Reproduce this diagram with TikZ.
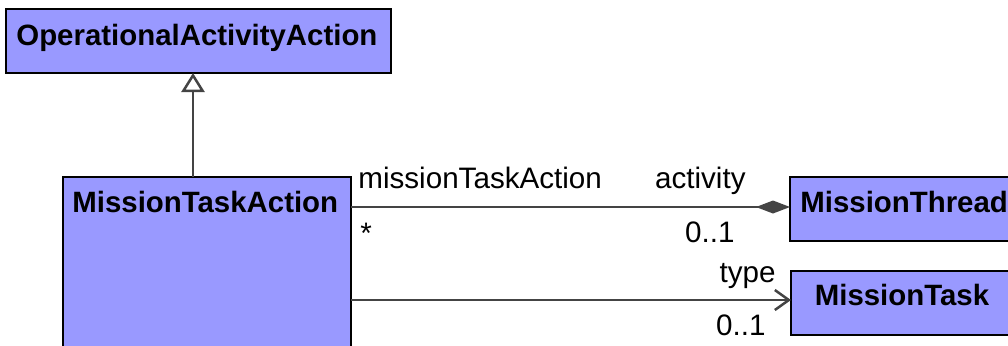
\documentclass[tikz,border=0pt]{standalone}
\usepackage{fontspec}
\setmainfont{Liberation Sans}
\usetikzlibrary{arrows.meta,calc}
\definecolor{boxfill}{HTML}{9999FF}
\definecolor{edgegray}{HTML}{444444}
\begin{document}
\begin{tikzpicture}[x=0.5pt,y=-0.5pt,
  classbox/.style={draw=black, fill=boxfill, line width=1pt, inner sep=0pt, outer sep=0pt, anchor=north west, rectangle},
  classname/.style={font=\fontsize{14.7}{17}\selectfont\bfseries, anchor=base west, inner sep=0pt},
  rolelabel/.style={font=\fontsize{14.8}{17}\selectfont, inner sep=0pt},
  assoc/.style={draw=edgegray, line width=1.25pt}]
\useasboundingbox (0,0) rectangle (1008,345);
\clip (0,0) rectangle (1008,345);

\node[classbox, minimum width=192.5pt, minimum height=32pt] (oaa) at (6,9) {};
\node[classbox, minimum width=144pt, minimum height=86pt] (mta) at (63,177) {};
\node[classbox, minimum width=111pt, minimum height=32pt] (mthr) at (790,177) {};
\node[classbox, minimum width=110.5pt, minimum height=32pt] (mtask) at (791,271) {};

\node[classname] (oaat) at (16,45) {OperationalActivityAction};
\node[classname] (mtat) at (72,212) {MissionTaskAction};
\node[classname] (mthrt) at (800,212) {MissionThread};
\node[classname, anchor=base] (mtaskt) at (902,305) {MissionTask};

\node[rolelabel, anchor=base west] (r1) at (358,188) {missionTaskAction};
\node[rolelabel, anchor=base east] (r2) at (746,188) {activity};
\node[rolelabel, anchor=base west] (m1) at (360,243) {*};
\node[rolelabel, anchor=base east] (m2) at (735,242) {0..1};
\node[rolelabel, anchor=base east] (r3) at (776,282) {type};
\node[rolelabel, anchor=base east] (m3) at (766,335) {0..1};

\draw[assoc, -{Triangle[open, fill=white, length=9.5pt, width=11.5pt]}]
  ($(mta.north west)+(130,0)$) -- ($(oaa.south west)+(187,0)$);
\draw[assoc, -{Diamond[length=17pt, width=6.5pt, fill=edgegray]}]
  ($(mta.north east)+(0,30)$) -- ($(mthr.north west)+(0,30)$);
\draw[assoc, -{Straight Barb[length=7pt, width=10pt]}]
  ($(mta.north east)+(0,123)$) -- ($(mtask.north west)+(0,29)$);
\end{tikzpicture}
\end{document}
